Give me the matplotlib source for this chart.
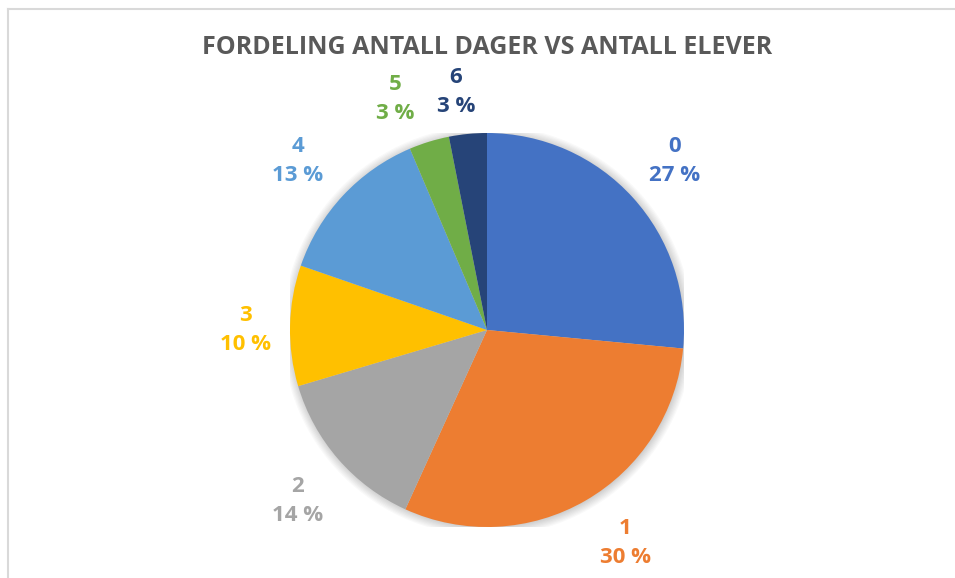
import matplotlib
matplotlib.use("Agg")
import matplotlib.pyplot as plt
from matplotlib.patches import Circle

categories = ["0", "1", "2", "3", "4", "5", "6"]
shares = [26.5, 30.3, 13.6, 9.9, 13.3, 3.3, 3.1]          # slice sizes
percent_labels = ["27 %", "30 %", "14 %", "10 %", "13 %", "3 %", "3 %"]
colors = ["#4472C4", "#ED7D31", "#A5A5A5", "#FFC000", "#5B9BD5", "#70AD47", "#264478"]
title = "FORDELING ANTALL DAGER VS ANTALL ELEVER"

W, H = 955, 578
fig = plt.figure(figsize=(W / 100, H / 100), dpi=100)
fig.patch.set_facecolor("white")

fig.add_artist(plt.Line2D([7.5 / W, 7.5 / W], [0, 1 - 9 / H], color="#D9D9D9", lw=1.5, transform=fig.transFigure))
fig.add_artist(plt.Line2D([7.5 / W, 1], [1 - 9 / H, 1 - 9 / H], color="#D9D9D9", lw=1.5, transform=fig.transFigure))

cx, cy, r = 487, 330, 197
ax = fig.add_axes([(cx - r) / W, (H - cy - r) / H, 2 * r / W, 2 * r / H])

# soft shadow around the pie
for i in range(8):
    ax.add_patch(Circle((0.004, -0.004), 1 + 0.006 * i, color="black", alpha=0.022, lw=0, zorder=0))

wedges, _ = ax.pie(shares, colors=colors, startangle=90, counterclock=False,
                   radius=1, center=(0, 0), wedgeprops=dict(linewidth=0, zorder=2))
ax.set_xlim(-1, 1)
ax.set_ylim(-1, 1)
ax.set_aspect("equal")
ax.axis("off")

label_px = [(675, 161), (625, 543), (298, 501), (245, 330), (298, 161), (395, 99), (456, 92)]
font = ["Open Sans", "DejaVu Sans"]
for cat, lab, col, (px, py) in zip(categories, percent_labels, colors, label_px):
    ax.text((px - cx) / r, (cy - py) / r, f"{cat}\n{lab}", ha="center", va="center",
            color=col, fontsize=16, fontweight="bold", family=font, linespacing=1.55,
            clip_on=False)

fig.text(cx / W, 1 - 47 / H, title, ha="center", va="center", fontsize=18,
         fontweight="bold", color="#595959", family=font)

fig.savefig("out.png", dpi=100, facecolor="white")
